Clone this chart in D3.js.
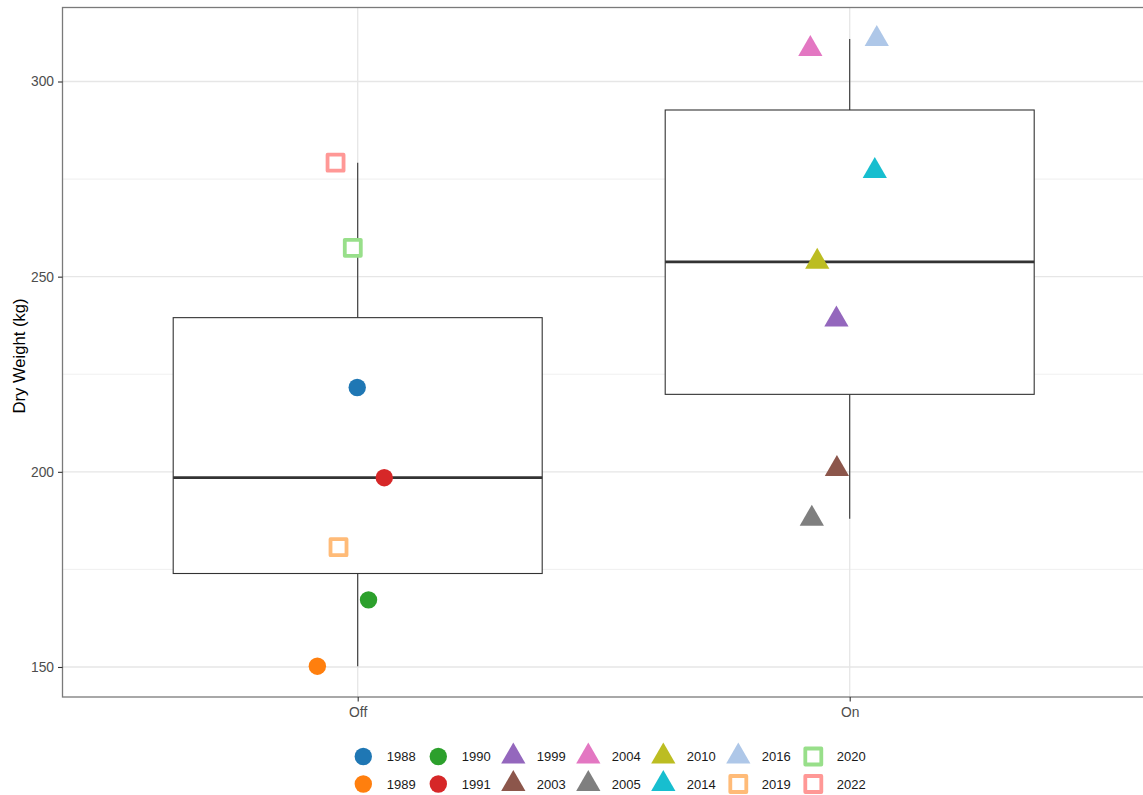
<!DOCTYPE html>
<html>
<head>
<meta charset="utf-8">
<script src="https://cdn.jsdelivr.net/npm/d3@7"></script>
<style>
  html, body { margin: 0; padding: 0; background: #fff; }
  svg { display: block; font-family: "Liberation Sans", Arial, sans-serif; }
</style>
</head>
<body>
<svg id="chart" width="1143" height="795"></svg>
<script>
// Dry weight per year, grouped by treatment
const years     = ["1988","1989","1990","1991","1999","2003","2004","2005","2010","2014","2016","2019","2020","2022"];
const treatment = ["Off","Off","Off","Off","On","On","On","On","On","On","On","Off","Off","Off"];
const weights   = [221.6,150.2,167.2,198.5,239.0,200.7,308.3,188.0,253.8,277.1,310.9,180.7,257.4,279.2];
// horizontal jitter of each point, as a fraction of the category step
const jitter    = [-0.001,-0.082,0.022,0.054,-0.027,-0.026,-0.080,-0.077,-0.066,0.051,0.055,-0.039,-0.010,-0.045];
const shapes    = ["circle","circle","circle","circle","triangle","triangle","triangle","triangle","triangle","triangle","triangle","square","square","square"];
const colors    = ["#1f77b4","#ff7f0e","#2ca02c","#d62728","#9467bd","#8c564b","#e377c2","#7f7f7f","#bcbd22","#17becf","#aec7e8","#ffbb78","#98df8a","#ff9896"];

const groups     = ["Off","On"];
const yMajor     = [150,200,250,300];
const yMinor     = [175,225,275];
const yLabel     = "Dry Weight (kg)";

const svg = d3.select("#chart");
const panel = {left: 62.5, right: 1144.9, top: 7.5, bottom: 697};

const x = d3.scalePoint().domain(groups).range([panel.left, panel.right]).padding(0.6);
const y = d3.scaleLinear().domain([142.31, 318.96]).range([panel.bottom, panel.top]);
const step = x.step();

const rows = years.map((yr, i) => ({year: yr, grp: treatment[i], w: weights[i], j: jitter[i], shape: shapes[i], color: colors[i]}));

// gridlines
const grid = svg.append("g");
grid.selectAll("line.minor").data(yMinor).join("line")
  .attr("x1", panel.left).attr("x2", panel.right)
  .attr("y1", d => y(d)).attr("y2", d => y(d))
  .attr("stroke", "#ebebeb").attr("stroke-width", 0.8);
grid.selectAll("line.major").data(yMajor).join("line")
  .attr("x1", panel.left).attr("x2", panel.right)
  .attr("y1", d => y(d)).attr("y2", d => y(d))
  .attr("stroke", "#e6e6e6").attr("stroke-width", 1.3);
grid.selectAll("line.vmajor").data(groups).join("line")
  .attr("x1", d => x(d)).attr("x2", d => x(d))
  .attr("y1", panel.top).attr("y2", panel.bottom)
  .attr("stroke", "#e6e6e6").attr("stroke-width", 1.3);

// boxplots (Tukey whiskers, type-7 quartiles)
const boxHalf = step * 0.75 / 2;
groups.forEach(g => {
  const vals = rows.filter(r => r.grp === g).map(r => r.w).sort(d3.ascending);
  const q1 = d3.quantile(vals, 0.25), med = d3.quantile(vals, 0.5), q3 = d3.quantile(vals, 0.75);
  const iqr = q3 - q1;
  const lo = d3.min(vals.filter(v => v >= q1 - 1.5 * iqr));
  const hi = d3.max(vals.filter(v => v <= q3 + 1.5 * iqr));
  const cx = x(g);
  const bg = svg.append("g");
  bg.append("line").attr("x1", cx).attr("x2", cx).attr("y1", y(hi)).attr("y2", y(q3))
    .attr("stroke", "#333").attr("stroke-width", 1.1);
  bg.append("line").attr("x1", cx).attr("x2", cx).attr("y1", y(q1)).attr("y2", y(lo))
    .attr("stroke", "#333").attr("stroke-width", 1.1);
  bg.append("rect").attr("x", cx - boxHalf).attr("width", 2 * boxHalf)
    .attr("y", y(q3)).attr("height", y(q1) - y(q3))
    .attr("fill", "#fff").attr("stroke", "#333").attr("stroke-width", 1.1);
  bg.append("line").attr("x1", cx - boxHalf).attr("x2", cx + boxHalf)
    .attr("y1", y(med)).attr("y2", y(med))
    .attr("stroke", "#333").attr("stroke-width", 2.8);
});

// point symbols
const R = 8.7;
function drawSymbol(sel, shape, color) {
  if (shape === "circle") {
    sel.append("circle").attr("r", R).attr("fill", color);
  } else if (shape === "triangle") {
    const r = 14, xc = r * Math.sqrt(3) / 2, yc = r / 2;
    sel.append("path").attr("d", `M0,${-r}L${xc},${yc}L${-xc},${yc}Z`).attr("fill", color);
  } else {
    const h = 8;
    sel.append("rect").attr("x", -h).attr("y", -h).attr("width", 2 * h).attr("height", 2 * h)
      .attr("fill", "#fff").attr("stroke", color).attr("stroke-width", 3.8)
      .attr("stroke-linejoin", "round");
  }
}

const pts = svg.append("g");
rows.forEach(r => {
  const g = pts.append("g").attr("transform", `translate(${x(r.grp) + r.j * step},${y(r.w)})`);
  drawSymbol(g, r.shape, r.color);
});

// panel border
svg.append("rect").attr("x", panel.left).attr("y", panel.top)
  .attr("width", panel.right - panel.left).attr("height", panel.bottom - panel.top)
  .attr("fill", "none").attr("stroke", "#7a7a7a").attr("stroke-width", 1.3);

// axes
const yAxis = svg.append("g").attr("transform", `translate(${panel.left},0)`)
  .call(d3.axisLeft(y).tickValues(yMajor).tickSize(4.5).tickPadding(4));
const xAxis = svg.append("g").attr("transform", `translate(0,${panel.bottom})`)
  .call(d3.axisBottom(x).tickSize(4.5).tickPadding(5.5));
[yAxis, xAxis].forEach(a => {
  a.select(".domain").remove();
  a.selectAll(".tick line").attr("stroke", "#333").attr("stroke-width", 1.1);
  a.selectAll(".tick text").attr("fill", "#4d4d4d").style("font-size", "13.8px")
    .style("font-family", "'Liberation Sans', Arial, sans-serif");
});

// y-axis title
svg.append("text")
  .attr("transform", `translate(24.5,356) rotate(-90)`)
  .attr("text-anchor", "middle")
  .style("font-size", "16.6px").attr("fill", "#000")
  .text(yLabel);

// legend: two rows, filled column by column
const legend = svg.append("g");
const colX0 = 363.3, colStep = 75, rowY = [756.5, 784];
rows.forEach((r, i) => {
  const col = Math.floor(i / 2), row = i % 2;
  const cx = colX0 + col * colStep;
  const k = legend.append("g").attr("transform", `translate(${cx},${rowY[row]})`);
  drawSymbol(k, r.shape, r.color);
  legend.append("text").attr("x", cx + 23.4).attr("y", rowY[row]).attr("dy", "0.35em")
    .style("font-size", "13px").attr("fill", "#1a1a1a").text(r.year);
});
</script>
</body>
</html>
